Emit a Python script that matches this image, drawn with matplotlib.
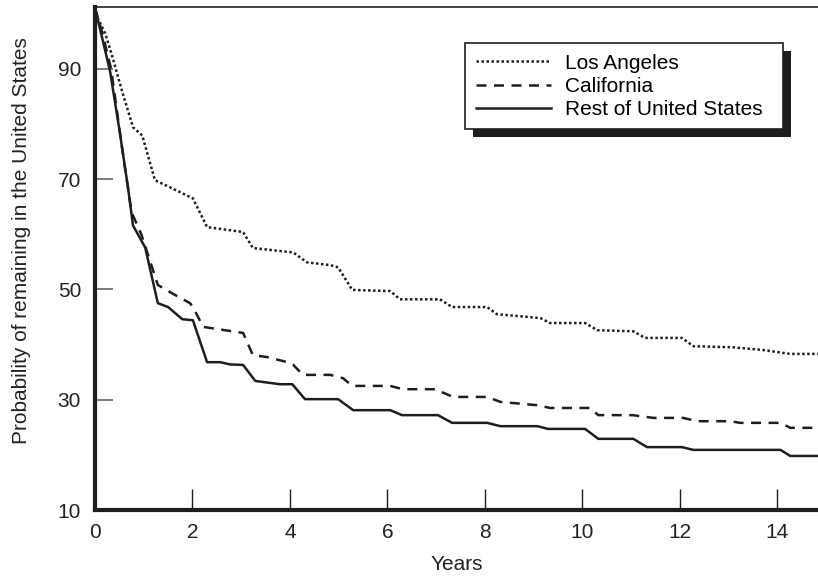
import matplotlib
matplotlib.use("Agg")
import matplotlib.pyplot as plt
from matplotlib.patches import Rectangle

plt.rcParams["font.family"] = ["Liberation Sans", "DejaVu Sans"]

# survival curves (years, percent)
la_years = [0, 0.06, 0.21, 0.35, 0.57, 0.78, 0.97, 1.23, 1.54, 2.01, 2.30, 3.04, 3.24,
            4.07, 4.35, 4.83, 4.99, 5.28, 6.06, 6.26, 7.08, 7.33, 8.05, 8.25, 9.14,
            9.34, 10.06, 10.31, 11.05, 11.29, 12.05, 12.28, 13.10, 13.72, 14.27, 14.84]
la_prob = [101, 99.1, 96.4, 92.4, 85.5, 79.4, 77.9, 69.8, 68.5, 66.5, 61.3, 60.4, 57.5,
           56.7, 54.9, 54.4, 54.0, 49.9, 49.7, 48.2, 48.2, 46.8, 46.8, 45.5, 44.8,
           43.9, 43.9, 42.6, 42.4, 41.2, 41.2, 39.7, 39.5, 39.0, 38.3, 38.3]

ca_years = [0, 0.15, 0.33, 0.55, 0.75, 0.95, 1.29, 1.58, 1.95, 2.01, 2.22, 3.04, 3.24,
            3.55, 3.95, 4.07, 4.27, 4.83, 5.09, 5.28, 6.06, 6.32, 6.98, 7.35, 8.05,
            8.32, 9.08, 9.34, 10.16, 10.33, 11.03, 11.46, 12.07, 12.36, 13.04, 13.24,
            14.07, 14.27, 14.84]
ca_prob = [101, 96.5, 90, 76, 64, 60, 50.8, 49.3, 47.5, 46.8, 43.2, 42.1, 38.1,
           37.7, 36.8, 36.3, 34.5, 34.5, 33.9, 32.5, 32.5, 31.9, 31.9, 30.5, 30.5,
           29.6, 29.0, 28.5, 28.5, 27.2, 27.2, 26.7, 26.7, 26.1, 26.1, 25.8,
           25.8, 24.9, 24.9]

us_years = [0, 0.15, 0.31, 0.50, 0.68, 0.78, 1.03, 1.29, 1.50, 1.79, 2.01, 2.30, 2.57,
            2.77, 3.04, 3.29, 3.80, 4.05, 4.31, 4.99, 5.30, 6.06, 6.30, 7.04, 7.33,
            8.05, 8.32, 9.08, 9.30, 10.06, 10.33, 11.05, 11.33, 12.05, 12.28, 14.07,
            14.27, 14.84]
us_prob = [101, 95.5, 89.5, 79, 68.3, 61.6, 57.6, 47.5, 46.8, 44.6, 44.4, 36.8, 36.8,
           36.4, 36.3, 33.4, 32.8, 32.8, 30.1, 30.1, 28.1, 28.1, 27.2, 27.2, 25.8,
           25.8, 25.2, 25.2, 24.7, 24.7, 22.9, 22.9, 21.4, 21.4, 20.9, 20.9,
           19.8, 19.8]

x_ticks = [0, 2, 4, 6, 8, 10, 12, 14]
y_ticks = [10, 30, 50, 70, 90]

fig = plt.figure(figsize=(8.18, 5.76), dpi=100)
ax = fig.add_axes([95 / 818, 66 / 576, 723 / 818, 503 / 576])

ink = "#1e1e1e"
ax.plot(la_years, la_prob, color=ink, lw=1.8, linestyle=(0, (1, 1)), label="Los Angeles")
ax.plot(ca_years, ca_prob, color=ink, lw=1.8, linestyle=(0, (4, 3)), label="California")
ax.plot(us_years, us_prob, color=ink, lw=1.8, label="Rest of United States")

ax.set_xlim(0, 14.84)
ax.set_ylim(10, 101.2)
ax.set_xticks(x_ticks)
ax.set_yticks(y_ticks)

ax.spines["right"].set_visible(False)
ax.spines["left"].set_linewidth(3)
ax.spines["bottom"].set_linewidth(3)
ax.spines["top"].set_linewidth(1.2)
for s in ax.spines.values():
    s.set_color(ink)

ax.tick_params(axis="x", direction="in", length=15, width=1, color=ink,
               labelsize=15, labelcolor="#222222", pad=9)
ax.tick_params(axis="y", direction="in", length=13, width=1.2, color="#666666",
               labelsize=15, labelcolor="#222222", pad=10)

ax.set_xlabel("Years", fontsize=15, color="#222222", labelpad=10)
ax.set_ylabel("Probability of remaining in the United States", fontsize=15,
              color="#222222")
ax.yaxis.set_label_coords(-0.088, 0.535)

leg = ax.legend(loc="upper left", bbox_to_anchor=(0.512, 0.928, 0.44, 0.0),
                mode="expand", fontsize=15, frameon=True, fancybox=False,
                handlelength=3.6, handletextpad=0.7, labelspacing=0.2,
                borderpad=0.5, borderaxespad=0)
leg.get_frame().set_edgecolor(ink)
leg.get_frame().set_linewidth(1.2)
leg.get_frame().set_alpha(1)
leg.set_zorder(6)

# drop shadow behind the legend box, offset down-right like the original
fig.canvas.draw()
bb = leg.get_window_extent()
shift = 8
shadow = Rectangle((bb.x0 + shift, bb.y0 - shift), bb.width, bb.height,
                   transform=None, facecolor=ink, edgecolor="none", zorder=5)
ax.add_artist(shadow)

fig.savefig("out.png", dpi=100)
